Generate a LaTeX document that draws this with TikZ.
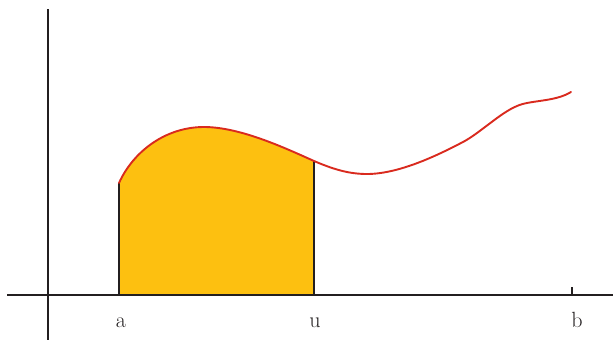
\documentclass[tikz,border=0pt]{standalone}
\usepackage{xcolor}
\definecolor{areafill}{HTML}{FDC010}
\definecolor{curvered}{HTML}{D92A1E}
\definecolor{axisdark}{HTML}{231F20}

\begin{document}
\begin{tikzpicture}[
    x=1pt, y=-1pt,
    axis/.style={draw=axisdark, line width=2.2pt},
    bound/.style={draw=axisdark, line width=1.4pt},
    curve/.style={draw=curvered, line width=1.9pt, line cap=round},
    lbl/.style={font=\fontsize{22}{24}\selectfont, text=axisdark, anchor=base, inner sep=0pt},
  ]
  \useasboundingbox (0,0) rectangle (613,340);

  % ---- axes
  \coordinate (xl) at (7,295);
  \coordinate (xr) at (613,295);
  \coordinate (yt) at (48,9);
  \coordinate (yb) at (48,340);

  % ---- points on the curve and their feet
  \coordinate (pa) at (119,183);
  \coordinate (pu) at (314,161);
  \coordinate (pb) at (571,92);
  \coordinate (qa) at (119,295);
  \coordinate (qu) at (314,295);
  \coordinate (qb) at (572,295);
  \coordinate (tb) at (572,287);

  % ---- area from a to u
  \fill[areafill] (qa) -- (pa) .. controls (133,152) and (165,127) .. (204,127)
    .. controls (240,127) and (285,148) .. (pu) -- (qu) -- cycle;
  \draw[bound] (qa) -- (pa);
  \draw[bound] (qu) -- (pu);

  % ---- the curve
  \draw[curve] (pa) .. controls (133,152) and (165,127) .. (204,127)
    .. controls (240,127) and (285,148) .. (pu)
    .. controls (335,170) and (350,174) .. (367,174)
    .. controls (400,174) and (440,154) .. (463,142)
    .. controls (480,133) and (500,113) .. (517,106)
    .. controls (530,100) and (555,102) .. (pb);

  \draw[axis] (xl) -- (xr);
  \draw[axis] (yt) -- (yb);
  \draw[axis] (qb) -- (tb);

  % ---- labels
  \node[lbl] (la) at (121,327) {a};
  \node[lbl] (lu) at (315,327) {u};
  \node[lbl] (lb) at (577,327) {b};
\end{tikzpicture}
\end{document}
